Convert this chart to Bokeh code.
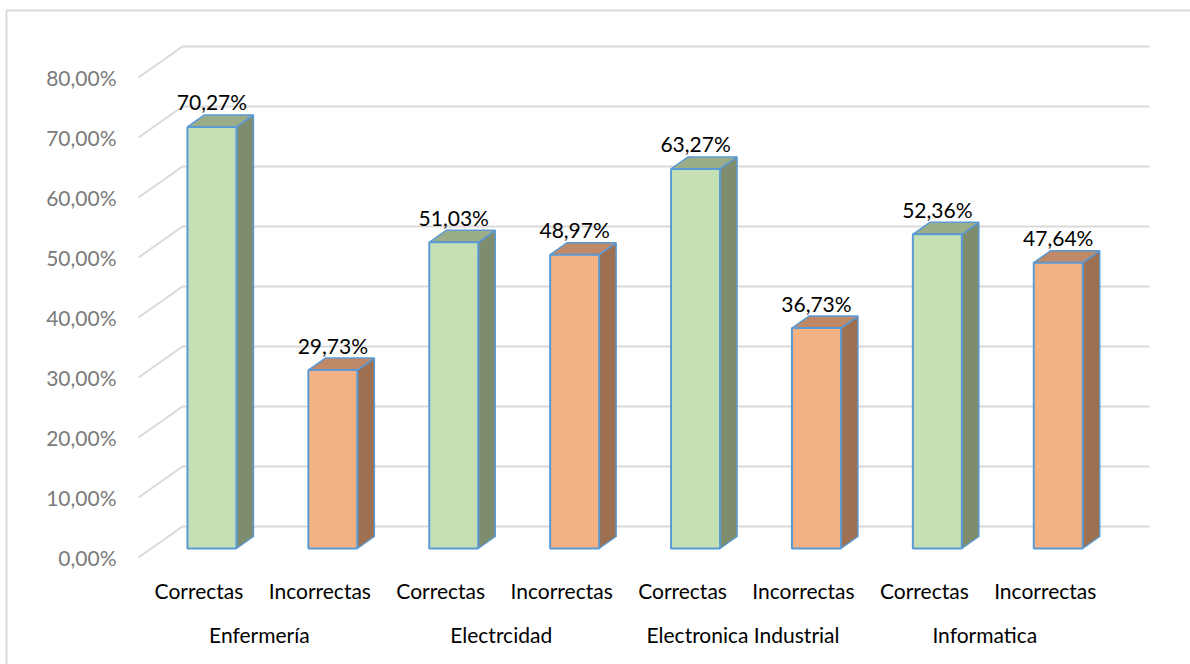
from bokeh.plotting import figure
from bokeh.models import Range1d
from bokeh.embed import file_html
from bokeh.resources import INLINE
from bokeh.core.properties import value

# ---------------- data ----------------
groups = ["Enfermería", "Electrcidad", "Electronica Industrial", "Informatica"]
answer_types = ["Correctas", "Incorrectas"]
correctas = [70.27, 51.03, 63.27, 52.36]
incorrectas = [29.73, 48.97, 36.73, 47.64]
y_ticks = [0, 10, 20, 30, 40, 50, 60, 70, 80]
y_tick_labels = ["0,00%", "10,00%", "20,00%", "30,00%", "40,00%",
                 "50,00%", "60,00%", "70,00%", "80,00%"]

# ---------------- layout constants (pixels) ----------------
W, H = 1190, 664
PX_PER_CAT = 120.9          # horizontal pixels per category slot
PX_PER_PCT = 6.0            # vertical pixels per percent point
FLOOR_LEFT_PX = 138         # left edge of the front floor
ZERO_PX = 557               # front 0% line, from top
WALL_DX, WALL_DY = 44, 31   # depth offset of back wall
BAR_FDX, BAR_FDY = 13, 9    # front face offset of bars
BAR_DDX, BAR_DDY = 17, 12   # depth of each bar
BAR_W = 49                  # bar front width

cx = 1.0 / PX_PER_CAT
cy = 1.0 / PX_PER_PCT

x0 = -FLOOR_LEFT_PX * cx
x1 = (W - FLOOR_LEFT_PX) * cx
y0 = -(H - ZERO_PX) * cy
y1 = ZERO_PX * cy

p = figure(width=W, height=H, x_range=Range1d(x0, x1), y_range=Range1d(y0, y1),
           output_backend="svg", toolbar_location=None, min_border=0)
p.axis.visible = False
p.grid.visible = False
p.outline_line_color = None
p.background_fill_color = "white"
p.border_fill_color = "white"

def px_x(px):
    return x0 + px * cx

def px_y(py):
    return y1 - py * cy

# outer chart border
p.line([px_x(6), px_x(6), px_x(W + 5)], [px_y(H + 5), px_y(10), px_y(10)],
       line_color="#d9d9d9", line_width=2)

# ---------------- gridlines ----------------
n_cat = len(groups) * len(answer_types)
wdx, wdy = WALL_DX * cx, WALL_DY * cy
grid_xs, grid_ys = [], []
for t in y_ticks:
    grid_xs.append([0, wdx, n_cat + wdx])
    grid_ys.append([t, t + wdy, t + wdy])
p.multi_line(grid_xs, grid_ys, line_color="#d9d9d9", line_width=2)

# ---------------- bars ----------------
vals, kinds = [], []
for c, i in zip(correctas, incorrectas):
    vals += [c, i]
    kinds += [0, 1]

front_col = ["#c5e0b4", "#f4b183"]
side_col = ["#7e8d6e", "#9c7050"]
top_col = ["#9aac88", "#bf8866"]
edge = "#5b9bd5"

fdx, fdy = BAR_FDX * cx, BAR_FDY * cy
ddx, ddy = BAR_DDX * cx, BAR_DDY * cy
bw = BAR_W * cx

fx, fy, fc = [], [], []
sx, sy, sc = [], [], []
tx, ty, tc = [], [], []
lab_x, lab_y, lab_t = [], [], []
for k, (v, kind) in enumerate(zip(vals, kinds)):
    xc = k + 0.5 + fdx
    xl, xr = xc - bw / 2, xc + bw / 2
    yb, yt = fdy, v + fdy
    fx.append([xl, xr, xr, xl]); fy.append([yb, yb, yt, yt]); fc.append(front_col[kind])
    sx.append([xr, xr + ddx, xr + ddx, xr]); sy.append([yb, yb + ddy, yt + ddy, yt]); sc.append(side_col[kind])
    tx.append([xl, xl + ddx, xr + ddx, xr]); ty.append([yt, yt + ddy, yt + ddy, yt]); tc.append(top_col[kind])
    lab_x.append(xc)
    lab_y.append(yt + 25 * cy)
    lab_t.append(("%.2f" % v).replace(".", ",") + "%")

p.patches(sx, sy, fill_color=sc, line_color=edge, line_width=1.5)
p.patches(tx, ty, fill_color=tc, line_color=edge, line_width=1.5)
p.patches(fx, fy, fill_color=fc, line_color=edge, line_width=2)

FONT = value("Lato")
p.text(lab_x, lab_y, text=lab_t, text_font=FONT, text_font_size="21px",
       text_color="black", text_align="center", text_baseline="middle")

# ---------------- y tick labels ----------------
p.text([px_x(116)] * len(y_ticks), y_ticks, text=y_tick_labels, text_font=FONT,
       text_font_size="21px", text_color="#7a7a7a", text_align="right",
       text_baseline="middle")

# ---------------- category labels ----------------
cat_x = [k + 0.5 for k in range(n_cat)]
cat_t = [answer_types[k % 2] for k in range(n_cat)]
p.text(cat_x, [px_y(590)] * n_cat, text=cat_t, text_font=FONT, text_font_size="21px",
       text_color="black", text_align="center", text_baseline="middle")

grp_x = [2 * g + 1 for g in range(len(groups))]
p.text(grp_x, [px_y(634)] * len(groups), text=groups, text_font=FONT,
       text_font_size="21px", text_color="black", text_align="center",
       text_baseline="middle")

open("out.html", "w").write(file_html(p, INLINE))
